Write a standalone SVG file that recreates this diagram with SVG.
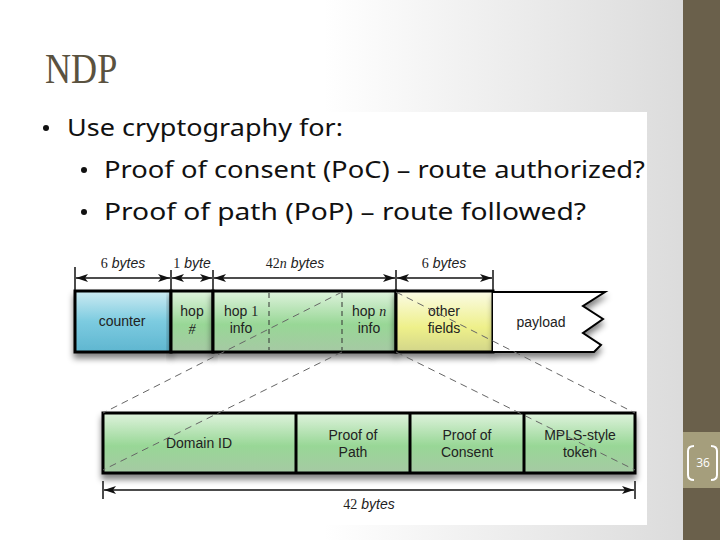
<svg xmlns="http://www.w3.org/2000/svg" width="720" height="540" viewBox="0 0 720 540">
<defs>
<linearGradient id="bg" x1="0" y1="0" x2="1" y2="0">
<stop offset="0" stop-color="#ffffff"/><stop offset="0.45" stop-color="#ffffff"/><stop offset="1" stop-color="#d8d8d8"/>
</linearGradient>
<linearGradient id="gBlue" x1="0" y1="0" x2="0" y2="1">
<stop offset="0" stop-color="#cdebf2"/><stop offset="0.5" stop-color="#7ccbe0"/><stop offset="1" stop-color="#5fb6d0"/>
</linearGradient>
<linearGradient id="gGreen" x1="0" y1="0" x2="0" y2="1">
<stop offset="0" stop-color="#dff3dd"/><stop offset="0.55" stop-color="#98d796"/><stop offset="1" stop-color="#a6c9a4"/>
</linearGradient>
<linearGradient id="gYellow" x1="0" y1="0" x2="0" y2="1">
<stop offset="0" stop-color="#fbfbe6"/><stop offset="0.6" stop-color="#eef08a"/><stop offset="1" stop-color="#d2d58a"/>
</linearGradient>
<filter id="shadow" x="-10%" y="-20%" width="120%" height="160%">
<feGaussianBlur in="SourceAlpha" stdDeviation="3"/>
<feOffset dx="0" dy="5" result="b"/>
<feComponentTransfer><feFuncA type="linear" slope="0.5"/></feComponentTransfer>
<feMerge><feMergeNode/><feMergeNode in="SourceGraphic"/></feMerge>
</filter>
<marker id="ah" viewBox="0 0 12 8" refX="12" refY="4" markerWidth="12" markerHeight="8" markerUnits="userSpaceOnUse" orient="auto-start-reverse">
<path d="M0,0 L12,4 L0,8 L3,4 z" fill="#111"/>
</marker>
<style>
.lbl{font-family:"Liberation Sans",Arial,sans-serif;font-size:14px;fill:#222;text-anchor:middle}
.dim{font-family:"Liberation Sans",Arial,sans-serif;font-size:14px;font-style:italic;fill:#222;text-anchor:middle}
.num{font-family:"Liberation Serif","Times New Roman",serif;font-style:normal}
.numi{font-family:"Liberation Serif","Times New Roman",serif;font-style:italic}
.box{stroke:#000;stroke-width:3}
.dline{stroke:#111;stroke-width:1.3;fill:none}
.tick{stroke:#111;stroke-width:1.5}
.dash{stroke:#666;stroke-width:1;stroke-dasharray:7 5;fill:none}
.vdash{stroke:#333;stroke-width:1;stroke-dasharray:5 4}
.bul{font-family:"Noto Sans","Open Sans",sans-serif;font-size:24px;fill:#111}
</style>
</defs>

<!-- slide background -->
<rect x="0" y="0" width="720" height="540" fill="url(#bg)"/>
<rect x="30" y="112" width="617" height="413" fill="#ffffff"/>
<rect x="683" y="0" width="37" height="540" fill="#6a604b"/>
<rect x="683" y="432" width="37" height="56" fill="#a59e7c"/>
<g id="pagenum">
<path d="M694,446 Q688,446 688,451 L688,475 Q688,480 694,480" stroke="#fff" stroke-width="2" fill="none"/>
<path d="M711,446 Q717,446 717,451 L717,475 Q717,480 711,480" stroke="#fff" stroke-width="2" fill="none"/>
<text x="703" y="467" font-family="'Open Sans','Noto Sans',sans-serif" font-size="12" fill="#fff" text-anchor="middle">36</text>
</g>

<!-- title -->
<text x="45" y="83" font-family="'Liberation Serif','Times New Roman',serif" font-size="42" fill="#5a5240" transform="translate(45,0) scale(0.86,1) translate(-45,0)">NDP</text>

<!-- bullets -->
<g id="bullets">
<circle cx="46" cy="128" r="3" fill="#111"/>
<text class="bul" x="67" y="136" textLength="276" lengthAdjust="spacingAndGlyphs">Use cryptography for:</text>
<circle cx="84" cy="170" r="3" fill="#111"/>
<text class="bul" x="104" y="178" textLength="541" lengthAdjust="spacingAndGlyphs">Proof of consent (PoC) – route authorized?</text>
<circle cx="84" cy="212" r="3" fill="#111"/>
<text class="bul" x="104" y="220" textLength="482" lengthAdjust="spacingAndGlyphs">Proof of path (PoP) –  route followed?</text>
</g>

<!-- top packet -->
<g id="counter">
<rect class="box" x="75" y="291" width="96" height="61" fill="url(#gBlue)" filter="url(#shadow)"/>
<text class="lbl" x="122" y="326">counter</text>
</g>
<g id="hopnum">
<rect class="box" x="171" y="291" width="42" height="61" fill="url(#gGreen)" filter="url(#shadow)"/>
<text class="lbl" x="192" y="316">hop</text>
<text class="lbl" x="192" y="334"><tspan class="numi">#</tspan></text>
</g>
<g id="hopinfo">
<rect class="box" x="213" y="291" width="183" height="61" fill="url(#gGreen)" filter="url(#shadow)"/>
<line class="vdash" x1="269" y1="293" x2="269" y2="350"/>
<line class="vdash" x1="342" y1="293" x2="342" y2="350"/>
<text class="lbl" x="241" y="316">hop <tspan class="num">1</tspan></text>
<text class="lbl" x="241" y="333">info</text>
<text class="lbl" x="369" y="316">hop <tspan class="numi">n</tspan></text>
<text class="lbl" x="369" y="333">info</text>
</g>
<g id="other">
<rect class="box" x="396" y="291" width="97" height="61" fill="url(#gYellow)" filter="url(#shadow)"/>
<text class="lbl" x="444" y="316">other</text>
<text class="lbl" x="444" y="333">fields</text>
</g>
<g id="payload">
<path d="M493,292 L605,292 L583,306 L603,319 L583,333 L601,345 L594,352 L493,352" stroke="#000" stroke-width="2" fill="#fff" filter="url(#shadow)"/>
<text class="lbl" x="541" y="327">payload</text>
</g>

<!-- bottom box -->
<g id="hopdetail">
<rect class="box" x="103" y="413" width="532" height="60" fill="url(#gGreen)" filter="url(#shadow)"/>
<line class="box" x1="296" y1="413" x2="296" y2="473"/>
<line class="box" x1="410" y1="413" x2="410" y2="473"/>
<line class="box" x1="524" y1="413" x2="524" y2="473"/>
<text class="lbl" x="199" y="448">Domain ID</text>
<text class="lbl" x="353" y="440">Proof of</text>
<text class="lbl" x="353" y="457">Path</text>
<text class="lbl" x="467" y="440">Proof of</text>
<text class="lbl" x="467" y="457">Consent</text>
<text class="lbl" x="580" y="440">MPLS-style</text>
<text class="lbl" x="580" y="457">token</text>
</g>

<!-- connectors -->
<g id="connectors">
<line class="dash" x1="342" y1="292" x2="103" y2="413"/>
<line class="dash" x1="342" y1="352" x2="103" y2="470"/>
<line class="dash" x1="396" y1="292" x2="635" y2="413"/>
<line class="dash" x1="396" y1="352" x2="635" y2="470"/>

<line class="tick" x1="75" y1="267" x2="75" y2="290"/>
<line class="tick" x1="171" y1="270" x2="171" y2="290"/>
<line class="tick" x1="213" y1="270" x2="213" y2="290"/>
<line class="tick" x1="396" y1="270" x2="396" y2="290"/>
<line class="tick" x1="493" y1="270" x2="493" y2="290"/>
<line class="dline" x1="76" y1="278" x2="170" y2="278" marker-start="url(#ah)" marker-end="url(#ah)"/>
<line class="dline" x1="172" y1="278" x2="212" y2="278" marker-start="url(#ah)" marker-end="url(#ah)"/>
<line class="dline" x1="214" y1="278" x2="395" y2="278" marker-start="url(#ah)" marker-end="url(#ah)"/>
<line class="dline" x1="397" y1="278" x2="492" y2="278" marker-start="url(#ah)" marker-end="url(#ah)"/>

<line class="tick" x1="103" y1="481" x2="103" y2="499"/>
<line class="tick" x1="635" y1="481" x2="635" y2="499"/>
<line class="dline" x1="104" y1="490" x2="634" y2="490" marker-start="url(#ah)" marker-end="url(#ah)"/>
</g>

<!-- dimension labels -->
<g id="dimlabels">
<text class="dim" x="123" y="268"><tspan class="num">6</tspan> bytes</text>
<text class="dim" x="192" y="268"><tspan class="num">1</tspan> byte</text>
<text class="dim" x="295" y="268"><tspan class="num">42</tspan><tspan class="numi">n</tspan> bytes</text>
<text class="dim" x="444" y="268"><tspan class="num">6</tspan> bytes</text>
<text class="dim" x="369" y="509"><tspan class="num">42</tspan> bytes</text>
</g>
</svg>
